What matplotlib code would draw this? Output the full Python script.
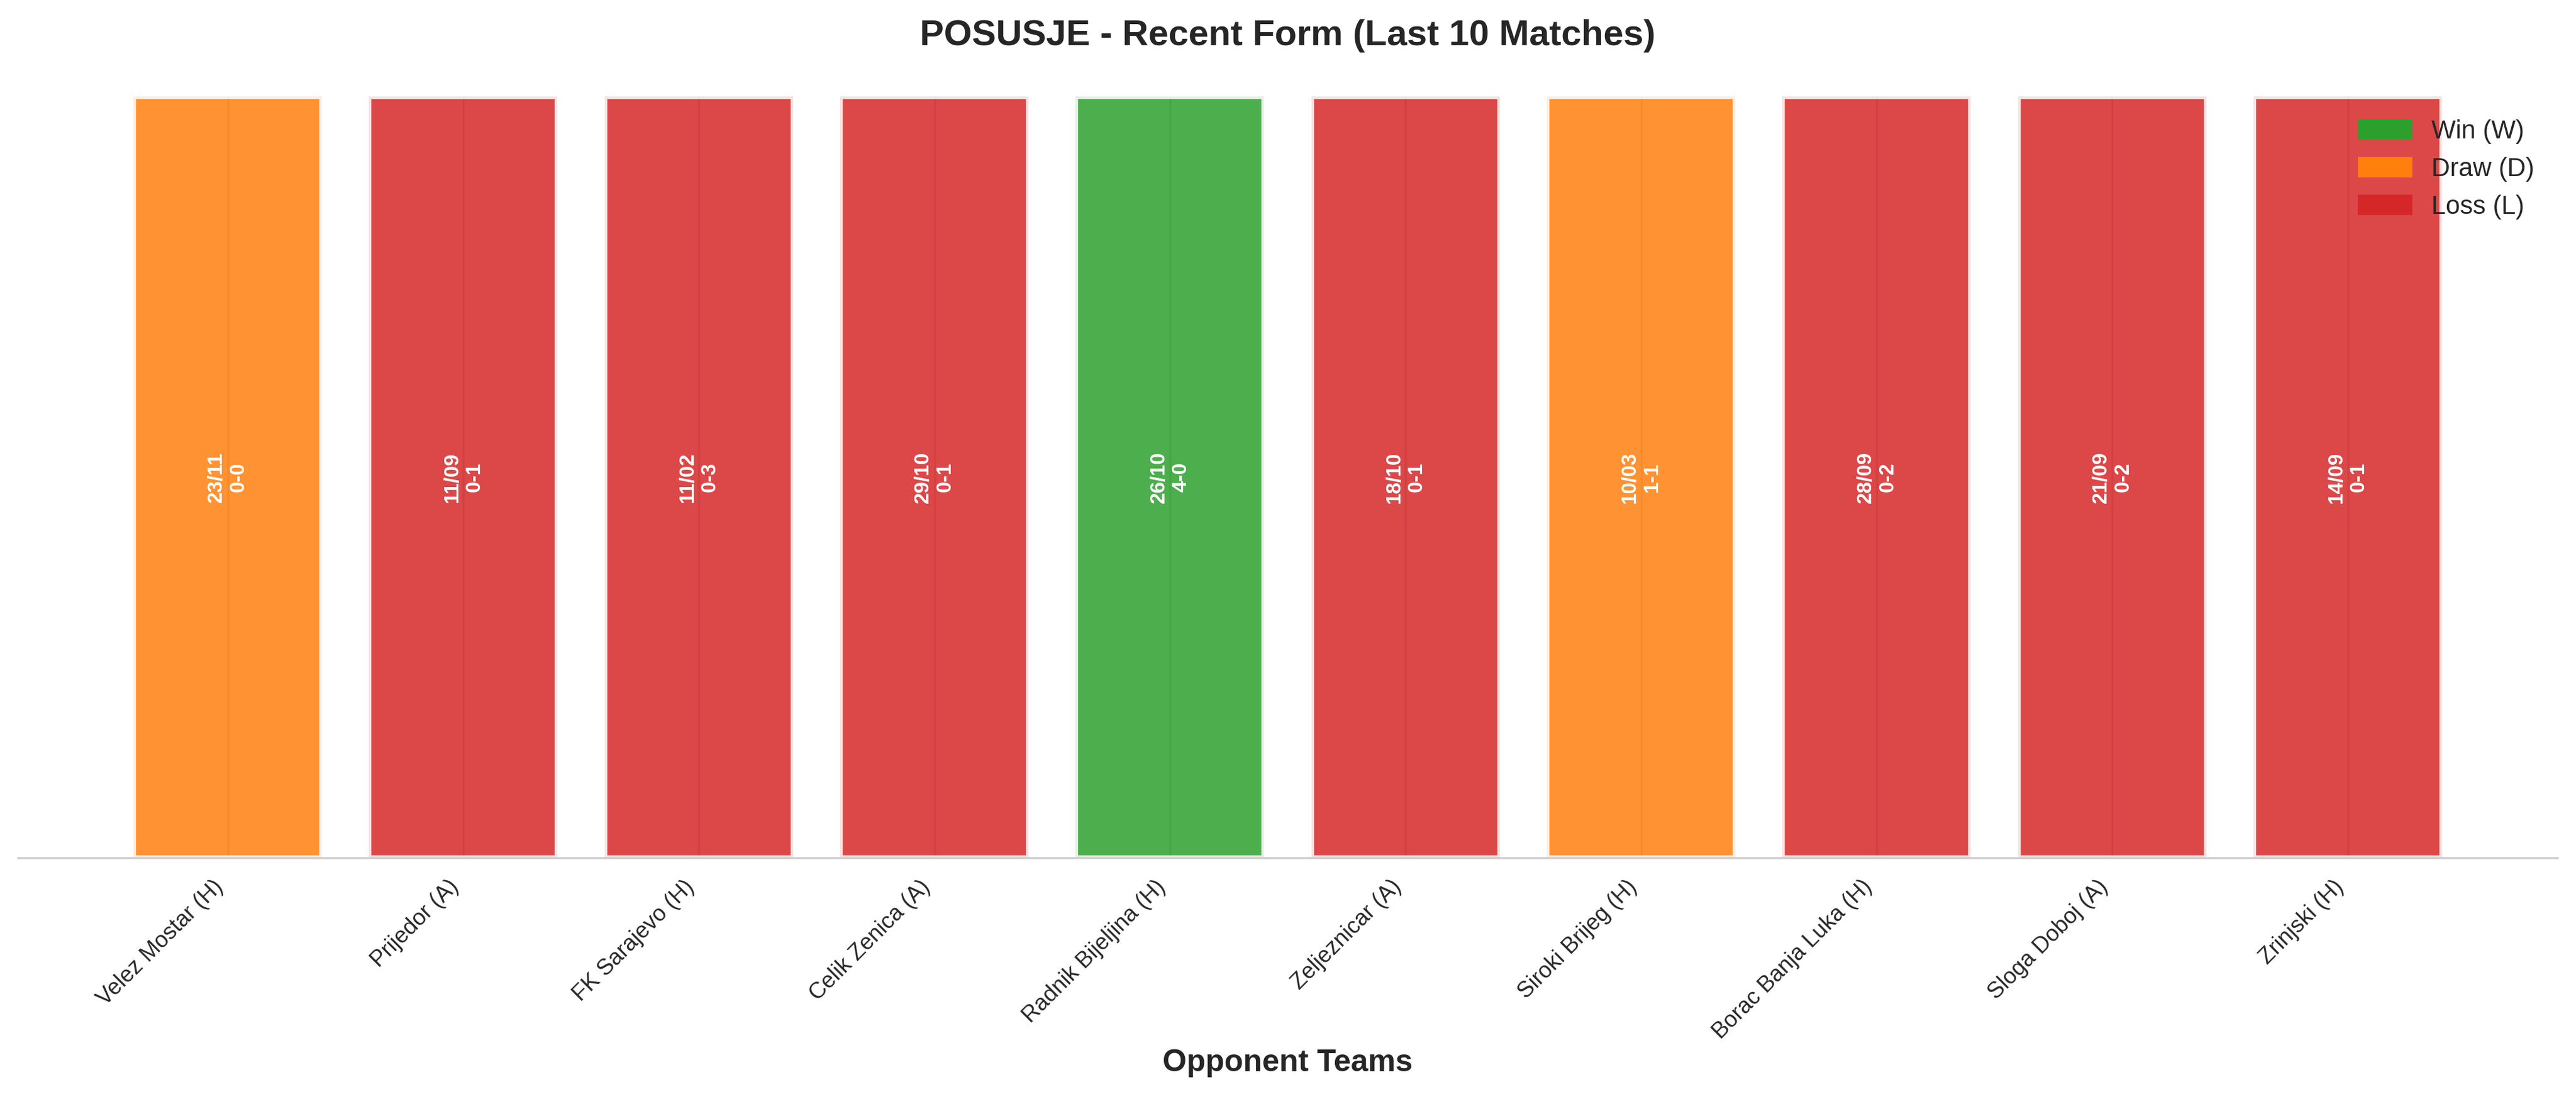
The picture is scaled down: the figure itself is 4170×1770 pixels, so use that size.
import matplotlib
matplotlib.use("Agg")
import matplotlib.pyplot as plt
from matplotlib.patches import Patch
import seaborn as sns

# -----------------------------
# Data (last 10 matches)
# -----------------------------
opponents = ['Velez Mostar (H)', 'Prijedor (A)', 'FK Sarajevo (H)', 'Celik Zenica (A)',
             'Radnik Bijeljina (H)', 'Zeljeznicar (A)', 'Siroki Brijeg (H)',
             'Borac Banja Luka (H)', 'Sloga Doboj (A)', 'Zrinjski (H)']
results = ['D', 'L', 'L', 'L', 'W', 'L', 'D', 'L', 'L', 'L']
dates = ['23/11', '11/09', '11/02', '29/10', '26/10', '18/10', '10/03', '28/09', '21/09', '14/09']
scores = ['0-0', '0-1', '0-3', '0-1', '4-0', '0-1', '1-1', '0-2', '0-2', '0-1']
bar_heights = [1, 1, 1, 1, 1, 1, 1, 1, 1, 1]

result_colors = {'W': '#2ca02c', 'D': '#ff7f0e', 'L': '#d62728'}
legend_labels = ['Win (W)', 'Draw (D)', 'Loss (L)']

# -----------------------------
# Style
# -----------------------------
sns.set_style("whitegrid")
plt.rcParams['font.family'] = ['Liberation Sans', 'DejaVu Sans']

fig, ax = plt.subplots(figsize=(13.9, 5.9), dpi=300)
fig.subplots_adjust(left=0.007, right=0.9928, bottom=0.2158, top=0.9119)

x = list(range(len(opponents)))
colors = [result_colors[r] for r in results]
ax.bar(x, bar_heights, color=colors, alpha=0.85, edgecolor='white', linewidth=2, width=0.8)

# date + score inside each bar
for i in x:
    ax.text(i, bar_heights[i] / 2, f"{dates[i]}\n{scores[i]}", ha='center', va='center',
            rotation=90, color='white', fontsize=8, fontweight='bold')

ax.set_ylim(0, 1)
ax.set_yticks([])
ax.set_xticks(x)
ax.set_xticklabels(opponents, rotation=45, ha='right', fontsize=8.75)
ax.set_xlabel('Opponent Teams', fontsize=12, fontweight='bold', labelpad=2)
ax.set_title('POSUSJE - Recent Form (Last 10 Matches)', fontsize=14, fontweight='bold', pad=20)

for side in ['top', 'right', 'left']:
    ax.spines[side].set_visible(False)
ax.spines['bottom'].set_color('#cccccc')

handles = [Patch(color=result_colors[k]) for k in ['W', 'D', 'L']]
ax.legend(handles, legend_labels, loc='upper right', frameon=False, fontsize=10)

plt.savefig('out.png', dpi=300)
